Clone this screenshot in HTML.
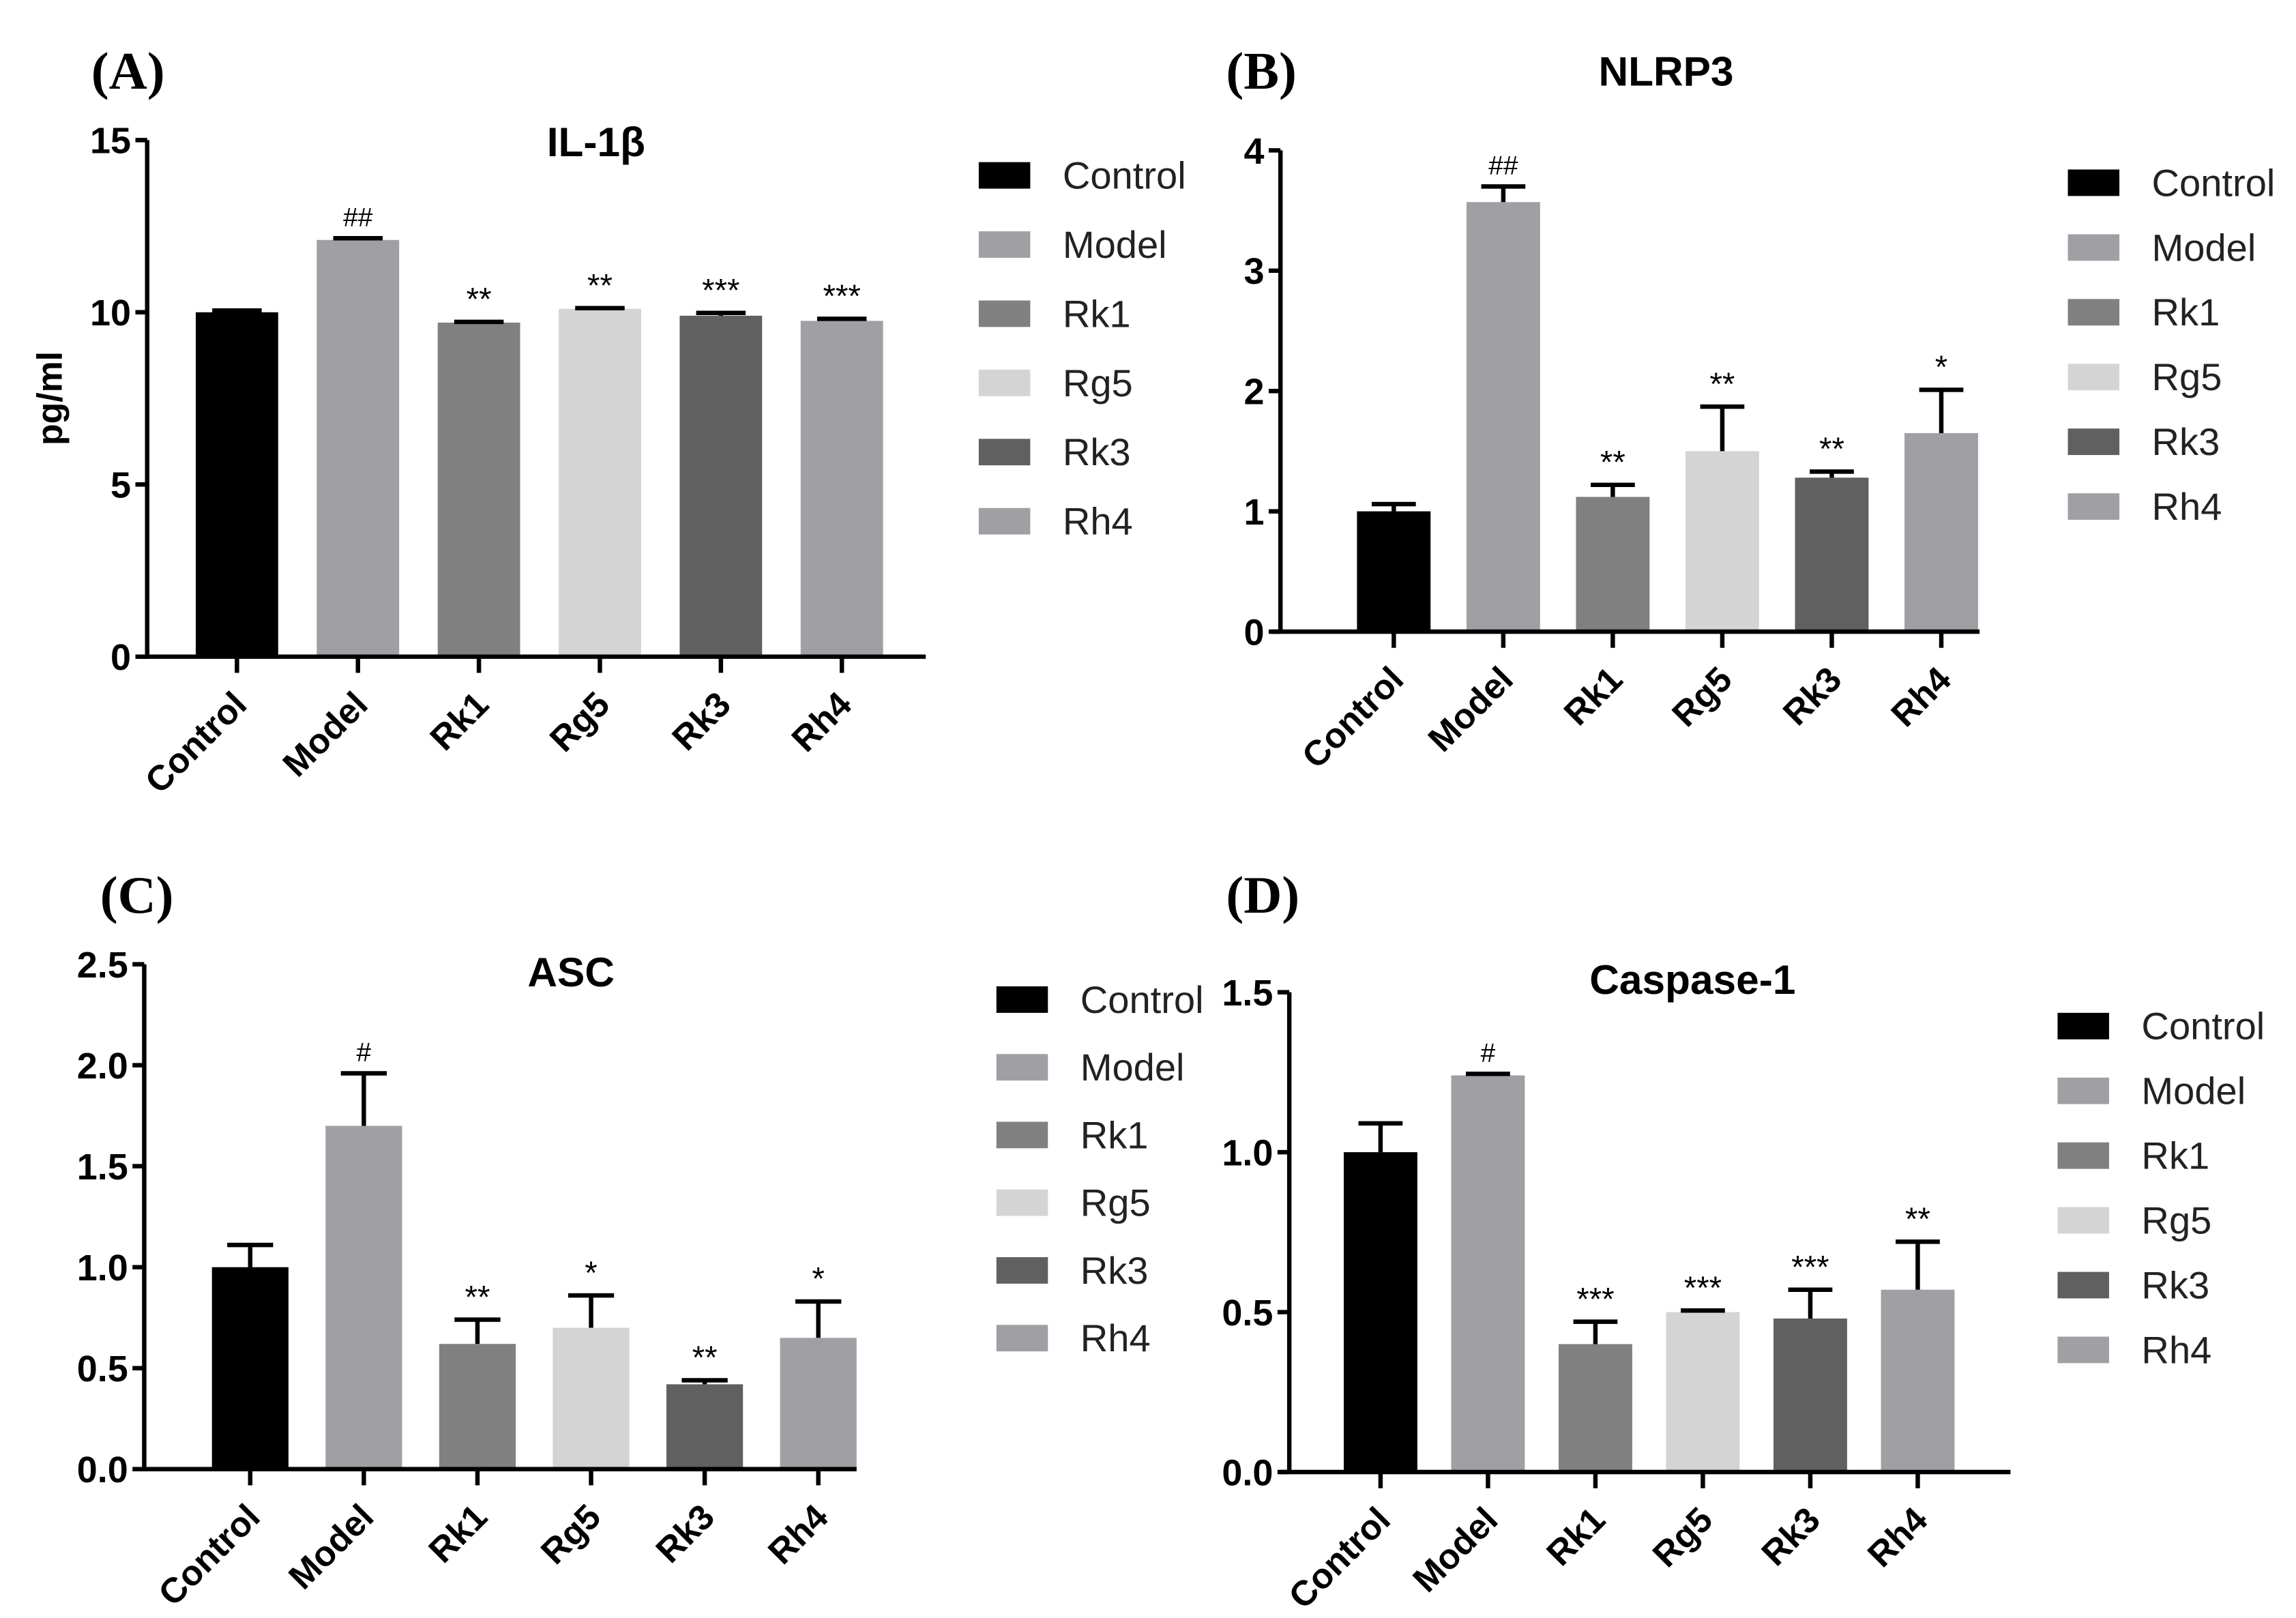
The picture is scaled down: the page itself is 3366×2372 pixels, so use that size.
<!DOCTYPE html>
<html><head><meta charset="utf-8"><style>
html,body{margin:0;padding:0;background:#fff}
svg{display:block}
text{font-family:"Liberation Sans",Arial,sans-serif}
</style></head><body>
<svg id="fig" width="3366" height="2372" viewBox="0 0 1560 1099" xmlns="http://www.w3.org/2000/svg"></svg>
<script>
const categories = ["Control","Model","Rk1","Rg5","Rk3","Rh4"];
const colors = ["#000000","#a0a0a4","#808080","#d4d4d4","#606060","#a0a0a4"];
const valuesA = [10.0,12.1,9.7,10.1,9.9,9.75];
const errorsA = [0.05,0.05,0.02,0.02,0.08,0.06];
const marksA = ["","##","**","**","***","***"];
const ticksA = [0,5,10,15];
const valuesB = [1.0,3.57,1.12,1.5,1.28,1.65];
const errorsB = [0.06,0.13,0.1,0.37,0.05,0.36];
const marksB = ["","##","**","**","**","*"];
const ticksB = [0,1,2,3,4];
const valuesC = [1.0,1.7,0.62,0.7,0.42,0.65];
const errorsC = [0.11,0.26,0.12,0.16,0.02,0.18];
const marksC = ["","#","**","*","**","*"];
const ticksC = ["0.0","0.5","1.0","1.5","2.0","2.5"];
const valuesD = [1.0,1.24,0.4,0.5,0.48,0.57];
const errorsD = [0.09,0.005,0.07,0.005,0.09,0.15];
const marksD = ["","#","***","***","***","**"];
const ticksD = ["0.0","0.5","1.0","1.5"];

const NS="http://www.w3.org/2000/svg";
const svg=document.getElementById('fig');
function mk(tag,attrs,parent,txt){const e=document.createElementNS(NS,tag);for(const k in attrs)e.setAttribute(k,attrs[k]);if(txt!==undefined)e.textContent=txt;(parent||svg).appendChild(e);return e;}

function panel(cfg,vals,errs,marks,ticks){
  const g=mk('g',{});
  
  
  const max=parseFloat(ticks[ticks.length-1]);
  const y=v=>cfg.y0-(v/max)*(cfg.y0-cfg.yTop);
  const x=i=>cfg.x1+i*cfg.step;
  const lbl=mk('text',{x:cfg.lx,y:cfg.ly,style:'font-family:"Liberation Serif",serif;font-weight:bold;font-size:36px'},g,cfg.label);
  
  
  const t=mk('text',{x:cfg.tx,y:cfg.ty,'font-weight':'bold','font-size':28,'text-anchor':'middle'},g,cfg.title);
  
  
  if(cfg.ylabel){
    const yl=mk('text',{x:0,y:0,'font-weight':'bold','font-size':24,'text-anchor':'middle',transform:`translate(${cfg.ax-58},${(cfg.y0+cfg.yTop)/2}) rotate(-90)`},g,cfg.ylabel);
    
    
  }
  vals.forEach((v,i)=>{
    const cx=x(i),w=cfg.bw;
    const b=mk('rect',{x:cx-w/2,y:y(v),width:w,height:cfg.y0-y(v),fill:colors[i]},g);
    
    
    const top=y(v+errs[i]);
    const eb=mk('path',{d:`M${cx} ${y(v)} V${top} M${cx-w*0.3} ${top} H${cx+w*0.3}`,stroke:'#000','stroke-width':3,fill:'none'},g);
    
    
    if(marks[i]){
      const m=mk('text',{x:cx,y:top-8,'font-size':marks[i].indexOf('#')>=0?18:22,'text-anchor':'middle'},g,marks[i]);
      
      
    }
    mk('line',{x1:cx,y1:cfg.y0,x2:cx,y2:cfg.y0+11,stroke:'#000','stroke-width':3},g);
    const xl=mk('text',{x:0,y:0,'font-weight':'bold','font-size':24,'text-anchor':'end',transform:`translate(${cx+8},${cfg.y0+34}) rotate(-45)`},g,categories[i]);
    
    
  });
  const ya=mk('path',{d:`M${cfg.ax} ${cfg.yTop} V${cfg.y0} M${cfg.ax-6} ${cfg.y0} H${cfg.axEnd}`,stroke:'#000','stroke-width':3,fill:'none'},g);
  
  
  ticks.forEach(tk=>{
    const ty=y(parseFloat(tk));
    mk('line',{x1:cfg.ax-8,y1:ty,x2:cfg.ax,y2:ty,stroke:'#000','stroke-width':3},g);
    const tl=mk('text',{x:cfg.ax-11,y:ty+9,'font-weight':'bold','font-size':25,'text-anchor':'end'},g,String(tk));
    
    
  });
  categories.forEach((c,i)=>{
    const ly=cfg.legY+i*cfg.legStep;
    const s=mk('rect',{x:cfg.legX,y:ly-9,width:35,height:18,fill:colors[i]},g);
    
    
    const lt=mk('text',{x:cfg.legX+57,y:ly+9,'font-size':26,fill:'#222'},g,c);
    
    
  });
}
panel({name:'panel-a-il1b',label:'(A)',lx:62,ly:60,title:'IL-1β',tx:405,ty:106,ylabel:'pg/ml',ax:100,axEnd:629,yTop:95,y0:446,x1:161,step:82.2,bw:56,legX:665,legY:119,legStep:47},valuesA,errorsA,marksA,ticksA);
panel({name:'panel-b-nlrp3',label:'(B)',lx:833,ly:60,title:'NLRP3',tx:1132,ty:58,ax:870,axEnd:1345,yTop:102,y0:429,x1:947,step:74.4,bw:50,legX:1405,legY:124,legStep:44},valuesB,errorsB,marksB,ticksB);
panel({name:'panel-c-asc',label:'(C)',lx:68,ly:620,title:'ASC',tx:388,ty:670,ax:98,axEnd:582,yTop:655,y0:998,x1:170,step:77.2,bw:52,legX:677,legY:679,legStep:46},valuesC,errorsC,marksC,ticksC);
panel({name:'panel-d-caspase1',label:'(D)',lx:833,ly:620,title:'Caspase-1',tx:1150,ty:675,ax:876,axEnd:1366,yTop:674,y0:1000,x1:938,step:73,bw:50,legX:1398,legY:697,legStep:44},valuesD,errorsD,marksD,ticksD);
</script>
</body></html>
